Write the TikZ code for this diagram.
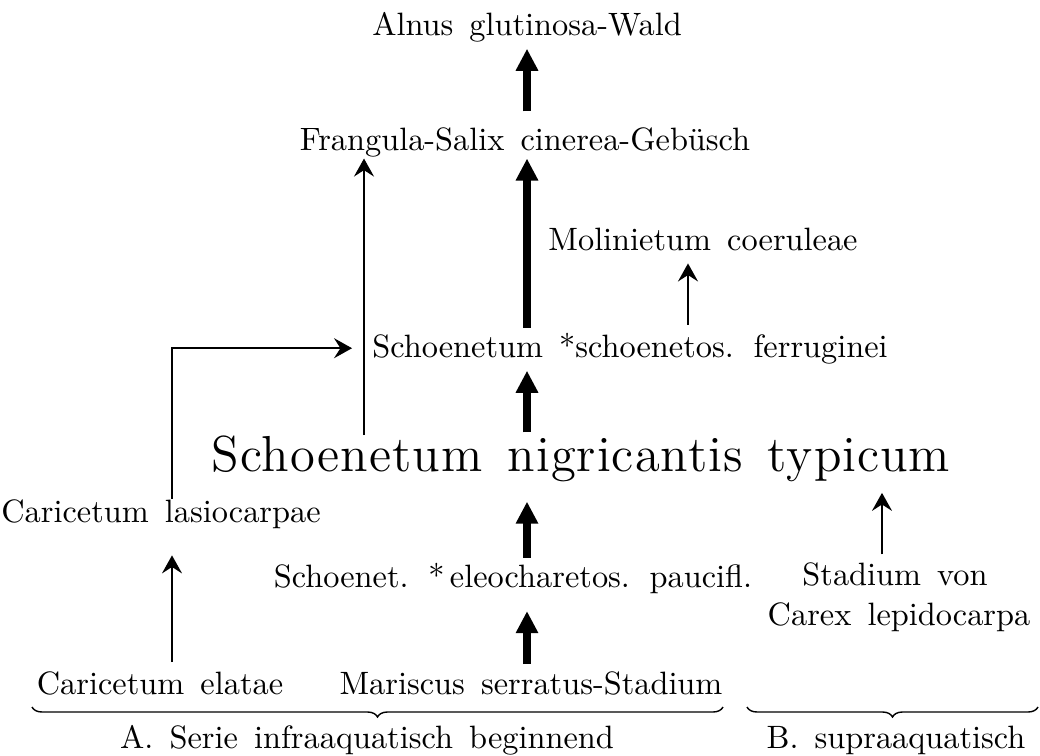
\documentclass[tikz,border=0pt]{standalone}
\usepackage{fontspec}
\usetikzlibrary{arrows.meta,decorations.pathreplacing}
\newfontfamily\stagefamily{lmroman10-regular.otf}
\newfontfamily\typfamily{lmroman12-regular.otf}[LetterSpace=2]
\newcommand{\stagefont}{\stagefamily\fontsize{23}{27}\selectfont\spaceskip=0.5em\relax}
\newcommand{\typfont}{\typfamily\fontsize{36}{40}\selectfont\spaceskip=0.5em\relax}

\begin{document}
\begin{tikzpicture}[x=0.025cm, y=-0.025cm,
    every node/.style={font=\stagefont, inner sep=0pt, anchor=base},
    bigarrow/.style={line width=5.5pt, -{Triangle[length=5.5mm,width=5.3mm]}},
    thinarrow/.style={line width=1.4pt, -{Stealth[length=4.5mm,width=5mm,inset=1.6mm]}},
    serbrace/.style={decorate, decoration={brace,mirror,amplitude=2.5mm}, line width=1pt}]
  \useasboundingbox (0,0) rectangle (1040,756);

  % stages of the succession
  \node (alnus)    at (527,35)  {Alnus glutinosa-Wald};
  \node (frangula) at (525,150) {Frangula-Salix cinerea-Gebüsch};
  \node (molinia)  at (703,250) {Molinietum coeruleae};
  \node (ferrug)   at (630,357) {Schoenetum *schoenetos. ferruginei};
  \node[font=\typfont] (typicum) at (581,471) {Schoenetum nigricantis typicum};
  \node (lasio)    at (161,522) {Caricetum lasiocarpae};
  \node (eleoch)   at (513,587) {Schoenet. *\,eleocharetos. paucifl.};
  \node (stadium)  at (895,585) {Stadium von};
  \node (carex)    at (899,625) {Carex lepidocarpa};
  \node (elatae)   at (160,694) {Caricetum elatae};
  \node (mariscus) at (531,694) {Mariscus serratus-Stadium};

  % columns of the arrows
  \coordinate (ax) at (527,0);
  \coordinate (fx) at (364,0);
  \coordinate (lx) at (172,0);
  \coordinate (mx) at (688,0);
  \coordinate (sx) at (882,0);

  % main line
  \draw[bigarrow, shorten <=3.9mm, shorten >=1.7mm] (frangula.north -| ax) -- (alnus.south -| ax);
  \draw[bigarrow, shorten <=1.2mm, shorten >=0.4mm] (ferrug.north -| ax) -- (frangula.south -| ax);
  \draw[bigarrow, shorten <=0.7mm, shorten >=1.7mm] (typicum.north -| ax) -- (ferrug.south -| ax);
  \draw[bigarrow, shorten <=1.2mm, shorten >=5mm] (eleoch.north -| ax) -- (typicum.south -| ax);
  \draw[bigarrow, shorten <=1.7mm, shorten >=4.4mm] (mariscus.north -| ax) -- (eleoch.south -| ax);

  % side lines
  \draw[thinarrow, shorten <=1.9mm, shorten >=3.2mm] (ferrug.north -| mx) -- (molinia.south -| mx);
  \draw[thinarrow, shorten >=0.4mm] (typicum.north -| fx) -- (frangula.south -| fx);
  \draw[thinarrow, shorten >=5mm] (lasio.north -| lx) |- (ferrug.west);
  \draw[thinarrow, shorten <=2.2mm, shorten >=6.7mm] (elatae.north -| lx) -- (lasio.south -| lx);
  \draw[thinarrow, shorten <=1.9mm, shorten >=2.8mm] (stadium.north -| sx) -- (typicum.south -| sx);

  % the two series
  \draw[serbrace] (32,707) -- (723,707);
  \draw[serbrace] (747,707) -- (1038,707);
  \node (serieA) at (367,748) {A. Serie infraaquatisch beginnend};
  \node (serieB) at (896,748) {B. supraaquatisch};
\end{tikzpicture}
\end{document}
